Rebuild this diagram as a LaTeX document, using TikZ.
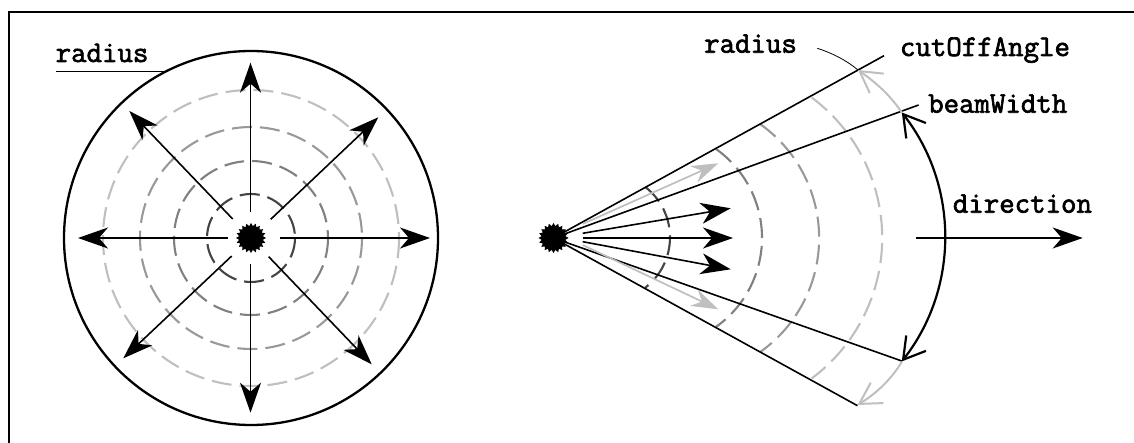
\documentclass[tikz,border=0pt]{standalone}
\usepackage{fontspec}
\newfontfamily\courb[FakeBold=2.2]{Latin Modern Mono}
\usetikzlibrary{arrows.meta,shapes.geometric}
\definecolor{dashA}{HTML}{444444}
\definecolor{dashB}{HTML}{808080}
\definecolor{dashC}{HTML}{999999}
\definecolor{dashD}{HTML}{BFBFBF}
\tikzset{
  ray/.style={line width=1.6pt,-{Stealth[length=30pt,width=21pt,inset=9pt]}},
  cone/.style={line width=1.6pt},
  thinline/.style={line width=0.8pt},
  ring/.style={line width=2.1pt,dash pattern=on 20pt off 8pt},
  bemit/.style={line width=1.6pt,color=black,fill=black,star,star points=20,star point ratio=1.25,minimum size=30pt,inner sep=0pt},
  lbl/.style={font=\courb\fontsize{30}{30}\selectfont,anchor=base west,inner sep=0pt},
  barbblack/.style={line width=2.2pt,{Straight Barb[length=21pt,width=25pt]}-{Straight Barb[length=21pt,width=25pt]}},
  barbgray/.style={line width=2pt,color=dashD,-{Straight Barb[length=21pt,width=24pt]}},
  grayray/.style={line width=1.7pt,color=dashD,-{Stealth[length=27pt,width=18pt,inset=9pt]}}
}
\begin{document}
\begin{tikzpicture}[x=1pt,y=-1pt]
\useasboundingbox (0,0) rectangle (1134,443);
\draw[line width=2pt] (8.5,443) -- (8.5,12) -- (1134,12);
% left
\draw[line width=2.3pt] (251,238) circle[radius=187];
\draw[ring,dashA] (251,238) circle[radius=44];
\draw[ring,dashB] (251,238) circle[radius=77];
\draw[ring,dashC] (251,238) circle[radius=111];
\draw[ring,dashD] (251,238) circle[radius=148];
\node[bemit] (L) at (251,238) {};
\coordinate (la) at (280,238); \coordinate (lA) at (430,238);
\coordinate (lb) at (227.7,238); \coordinate (lB) at (78,238);
\coordinate (lc) at (250.5,211.7); \coordinate (lC) at (250.5,62.7);
\coordinate (ld) at (250.5,264); \coordinate (lD) at (250.5,412.7);
\coordinate (le) at (270.7,219.3); \coordinate (lE) at (378.3,117.3);
\coordinate (lf) at (232.7,219); \coordinate (lF) at (129.3,111);
\coordinate (lg) at (231.7,256); \coordinate (lG) at (123.3,358.3);
\coordinate (lh) at (268.7,256.7); \coordinate (lH) at (371.7,364.3);
\foreach \s/\t in {la/lA,lb/lB,lc/lC,ld/lD,le/lE,lf/lF,lg/lG,lh/lH} \draw[ray] (\s) -- (\t);
\node[lbl] (rl) at (55.5,62) {radius};
\coordinate (u0) at (55.5,71.5); \coordinate (u1) at (168,71.5);
\draw[thinline] (u0) -- (u1);
% right
\draw[ring,dashA] (645.3,187) arc[start angle=-52.3,end angle=52.3,radius=63.6];
\draw[ring,dashB] (716,149) arc[start angle=-54.7,end angle=54.7,radius=109];
\draw[ring,dashC] (760,124) arc[start angle=-54.8,end angle=54.8,radius=139.6];
\draw[ring,dashD] (811.7,97.5) arc[start angle=-53.3,end angle=53.3,radius=175.2];
\node[bemit] (R) at (553.5,238) {};
\coordinate (cu) at (884,55.7); \coordinate (cl) at (857.5,405.7);
\coordinate (bu) at (918.6,105); \coordinate (bl) at (901.8,361);
\foreach \t in {cu,cl,bu,bl} \draw[cone] (R.center) -- (\t);
\coordinate (gu0) at (582.7,224); \coordinate (guT) at (718.3,163.3);
\coordinate (gl0) at (582.7,245); \coordinate (glT) at (718.3,309.3);
\draw[grayray] (gu0) -- (guT);
\draw[grayray] (gl0) -- (glT);
\coordinate (a0) at (582.7,233.3); \coordinate (aT) at (730.7,208.3);
\coordinate (b0) at (582.7,238); \coordinate (bT) at (733,238);
\coordinate (c0) at (582.7,241.7); \coordinate (cT) at (730.7,269.3);
\foreach \s/\t in {a0/aT,b0/bT,c0/cT} \draw[ray] (\s) -- (\t);
\coordinate (d0) at (915.5,238); \coordinate (dT) at (1082.7,238);
\draw[ray] (d0) -- (dT);
\draw[barbblack] (901.8,112.5) arc[start angle=-38.1,end angle=38.1,radius=201.7];
\coordinate (gA) at (901.8,112.5); \coordinate (gAT) at (858,70);
\coordinate (gB) at (901.8,362); \coordinate (gBT) at (857.5,405);
\draw[barbgray] (gA) .. controls (888,92) and (872,80) .. (gAT);
\draw[barbgray] (gB) .. controls (888,384) and (872,396) .. (gBT);
\coordinate (rl0) at (817.3,48.3); \coordinate (rl1) at (858,70);
\draw[thinline] (rl0) .. controls (832,53) and (846,60) .. (rl1);
\node[lbl] (rr) at (704,52.7) {radius};
\node[lbl] (co) at (899.8,56) {cutOffAngle};
\node[lbl] (bw) at (928,112.7) {beamWidth};
\node[lbl] (di) at (952.7,212.7) {direction};
\end{tikzpicture}
\end{document}
